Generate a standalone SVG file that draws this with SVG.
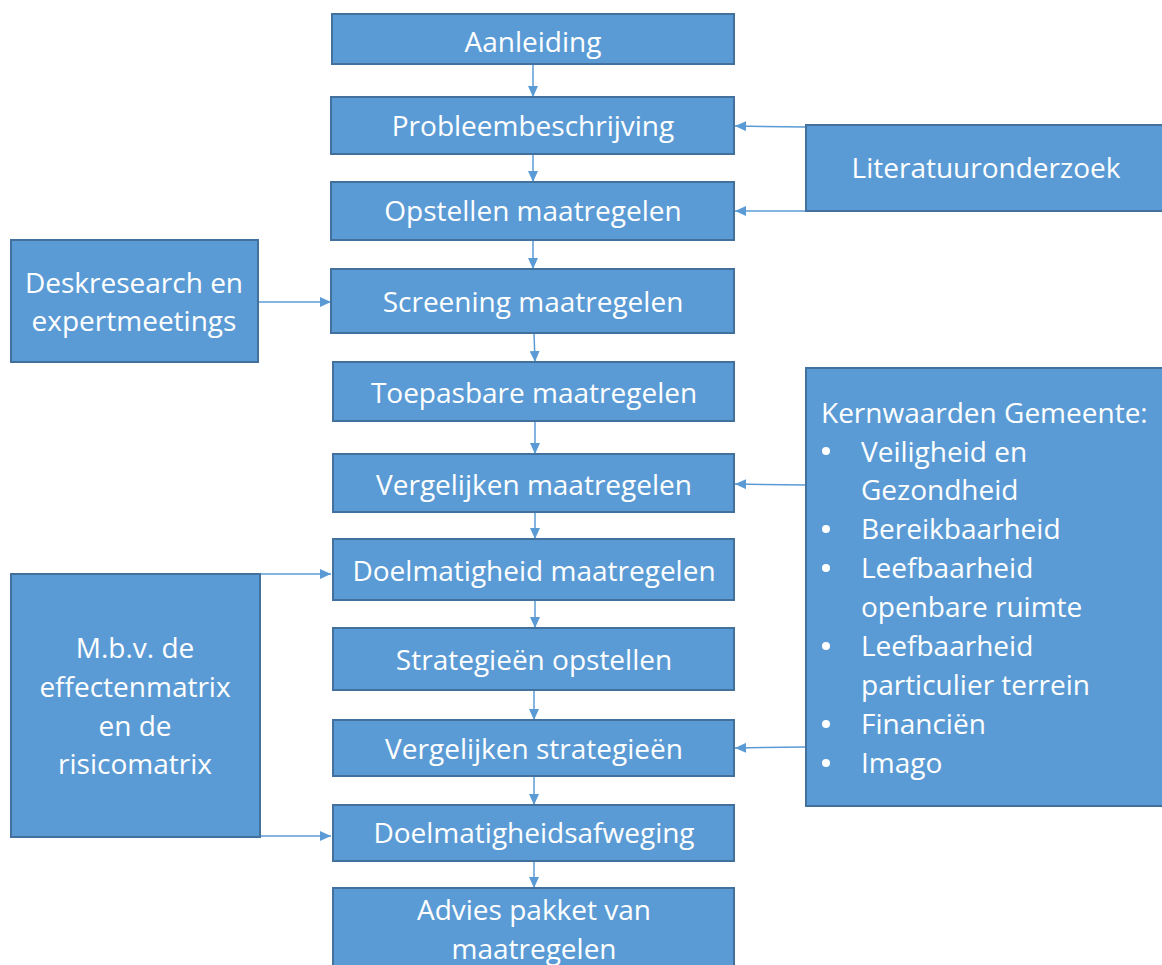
<svg xmlns="http://www.w3.org/2000/svg" width="1162" height="965" viewBox="0 0 1162 965">
<defs>
<style>
.box{fill:#5B9BD5;stroke:#41719C;stroke-width:2}
.t{font-family:"Open Sans","Liberation Sans",sans-serif;font-size:28px;fill:#FFFFFF}
.c{text-anchor:middle}
.ln{stroke:#5B9BD5;stroke-width:1.5;fill:none}
</style>
<marker id="ah" markerUnits="userSpaceOnUse" markerWidth="12" markerHeight="10" refX="11" refY="5" orient="auto">
<path d="M0,0 L11,5 L0,10 Z" fill="#5B9BD5"/>
</marker>
</defs>
<rect width="1162" height="965" fill="#FFFFFF"/>
<g id="connectors">
<line class="ln" x1="533" y1="64" x2="533" y2="97" marker-end="url(#ah)"/>
<line class="ln" x1="533" y1="154" x2="533" y2="182" marker-end="url(#ah)"/>
<line class="ln" x1="533" y1="240" x2="533" y2="269" marker-end="url(#ah)"/>
<line class="ln" x1="534" y1="333" x2="535" y2="362" marker-end="url(#ah)"/>
<line class="ln" x1="535" y1="421" x2="535" y2="454" marker-end="url(#ah)"/>
<line class="ln" x1="535" y1="512" x2="535" y2="539" marker-end="url(#ah)"/>
<line class="ln" x1="535" y1="600" x2="535" y2="628" marker-end="url(#ah)"/>
<line class="ln" x1="534" y1="690" x2="534" y2="720" marker-end="url(#ah)"/>
<line class="ln" x1="534" y1="776" x2="534" y2="805" marker-end="url(#ah)"/>
<line class="ln" x1="534" y1="861" x2="534" y2="888" marker-end="url(#ah)"/>
<line class="ln" x1="806" y1="127" x2="735" y2="126" marker-end="url(#ah)"/>
<line class="ln" x1="806" y1="211" x2="735" y2="211" marker-end="url(#ah)"/>
<line class="ln" x1="806" y1="485" x2="735" y2="484" marker-end="url(#ah)"/>
<line class="ln" x1="806" y1="747" x2="735" y2="748" marker-end="url(#ah)"/>
<line class="ln" x1="258" y1="302" x2="331" y2="302" marker-end="url(#ah)"/>
<line class="ln" x1="260" y1="574" x2="331" y2="574" marker-end="url(#ah)"/>
<line class="ln" x1="260" y1="836" x2="331" y2="836" marker-end="url(#ah)"/>
</g>
<g id="aanleiding"><rect class="box" x="332" y="14" width="402" height="50"/><text class="t c" x="533" y="52">Aanleiding</text></g>
<g id="probleembeschrijving"><rect class="box" x="331" y="97" width="403" height="57"/><text class="t c" x="533" y="136">Probleembeschrijving</text></g>
<g id="opstellen"><rect class="box" x="331" y="182" width="403" height="58"/><text class="t c" x="533" y="221">Opstellen maatregelen</text></g>
<g id="screening"><rect class="box" x="331" y="269" width="403" height="64"/><text class="t c" x="533" y="312">Screening maatregelen</text></g>
<g id="toepasbare"><rect class="box" x="333" y="362" width="401" height="59"/><text class="t c" x="534" y="403">Toepasbare maatregelen</text></g>
<g id="vergelijken-maatregelen"><rect class="box" x="333" y="454" width="401" height="58"/><text class="t c" x="534" y="495">Vergelijken maatregelen</text></g>
<g id="doelmatigheid"><rect class="box" x="333" y="539" width="401" height="61"/><text class="t c" x="534" y="581">Doelmatigheid maatregelen</text></g>
<g id="strategieen"><rect class="box" x="333" y="628" width="401" height="62"/><text class="t c" x="534" y="670">Strategieën opstellen</text></g>
<g id="vergelijken-strategieen"><rect class="box" x="333" y="720" width="401" height="56"/><text class="t c" x="534" y="759">Vergelijken strategieën</text></g>
<g id="doelmatigheidsafweging"><rect class="box" x="333" y="805" width="401" height="56"/><text class="t c" x="534" y="843">Doelmatigheidsafweging</text></g>
<g id="advies"><rect class="box" x="333" y="888" width="401" height="90"/><text class="t c" x="534" y="920">Advies pakket van</text><text class="t c" x="534" y="959">maatregelen</text></g>
<g id="literatuuronderzoek"><rect class="box" x="806" y="125" width="360" height="86"/><text class="t c" x="986" y="178">Literatuuronderzoek</text></g>
<g id="deskresearch"><rect class="box" x="11" y="240" width="247" height="122"/><text class="t c" x="134" y="293">Deskresearch en</text><text class="t c" x="134" y="331">expertmeetings</text></g>
<g id="mbv"><rect class="box" x="11" y="574" width="249" height="263"/><text class="t c" x="135" y="658">M.b.v. de</text><text class="t c" x="135" y="697">effectenmatrix</text><text class="t c" x="135" y="736">en de</text><text class="t c" x="135" y="774">risicomatrix</text></g>
<g id="kernwaarden"><rect class="box" x="806" y="368" width="360" height="438"/>
<text class="t" x="821" y="423">Kernwaarden Gemeente:</text>
<g fill="#FFFFFF"><circle cx="826" cy="451" r="4"/><circle cx="826" cy="529" r="4"/><circle cx="826" cy="568" r="4"/><circle cx="826" cy="646" r="4"/><circle cx="826" cy="724" r="4"/><circle cx="826" cy="763" r="4"/></g>
<text class="t" x="861" y="462">Veiligheid en</text>
<text class="t" x="861" y="500">Gezondheid</text>
<text class="t" x="861" y="539">Bereikbaarheid</text>
<text class="t" x="861" y="578">Leefbaarheid</text>
<text class="t" x="861" y="617">openbare ruimte</text>
<text class="t" x="861" y="656">Leefbaarheid</text>
<text class="t" x="861" y="695">particulier terrein</text>
<text class="t" x="861" y="734">Financiën</text>
<text class="t" x="861" y="773">Imago</text>
</g>
</svg>
